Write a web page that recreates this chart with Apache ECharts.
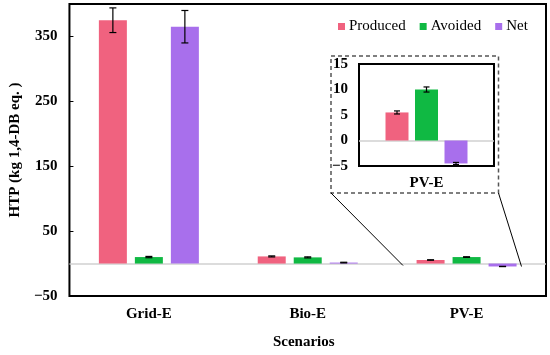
<!DOCTYPE html>
<html>
<head>
<meta charset="utf-8">
<script src="https://cdn.jsdelivr.net/npm/echarts@6/dist/echarts.min.js"></script>
<style>html,body{margin:0;padding:0;background:#fff}#c{width:550px;height:355px}</style>
</head>
<body>
<div id="c"></div>
<script>
const categories = ['Grid-E', 'Bio-E', 'PV-E'];
const seriesNames = ['Produced', 'Avoided', 'Net'];
const produced = [375, 11, 5.5];
const producedErr = [19, 0.8, 0.3];
const avoided = [10, 9.5, 10];
const avoidedErr = [1, 0.8, 0.5];
const net = [365, 1.5, -4.5];
const netErr = [25, 0.5, 0.2];
const insetCategory = ['PV-E'];
const insetIndex = 2;

const colors = ['#F0627F', '#10B943', '#A86FEC'];
const FONT = '"Liberation Serif", "Times New Roman", serif';
const values = [produced, avoided, net];
const errors = [producedErr, avoidedErr, netErr];

const MAIN_BW = 28, MAIN_GAP = 8;
const INS_BW = 23, INS_GAP = 6.5;

function minusFmt(v) { return String(v).replace('-', '\u2212'); }

function errSeries(k, vals, errs, xIdx, yIdx, bw, gap, cap) {
  return {
    type: 'custom', name: seriesNames[k] + ' err', xAxisIndex: xIdx, yAxisIndex: yIdx,
    silent: true, z: 12,
    data: vals.map((v, i) => [i, v, errs[i]]),
    renderItem: function (params, api) {
      const i = api.value(0), v = api.value(1), e = api.value(2);
      const c = api.coord([i, v]);
      const x = c[0] + (k - 1) * (bw + gap);
      const t = api.coord([i, v + e])[1];
      const b = api.coord([i, v - e])[1];
      const st = { stroke: '#000', lineWidth: 1.2 };
      return { type: 'group', children: [
        { type: 'line', shape: { x1: x, y1: t, x2: x, y2: b }, style: st },
        { type: 'line', shape: { x1: x - cap, y1: t, x2: x + cap, y2: t }, style: st },
        { type: 'line', shape: { x1: x - cap, y1: b, x2: x + cap, y2: b }, style: st }
      ]};
    }
  };
}

const zeroLine = {
  silent: true, symbol: 'none', label: { show: false },
  lineStyle: { color: '#d0d0d0', type: 'solid', width: 1.5 },
  data: [{ yAxis: 0 }]
};

const series = [];
seriesNames.forEach((n, k) => {
  const s = {
    type: 'bar', name: n, xAxisIndex: 0, yAxisIndex: 0, data: values[k], z: 10,
    barWidth: MAIN_BW, barGap: (MAIN_GAP / MAIN_BW * 100) + '%',
    itemStyle: { color: colors[k] }
  };
  if (k === 0) s.markLine = zeroLine;
  series.push(s);
});
seriesNames.forEach((n, k) => {
  const s = {
    type: 'bar', name: n, xAxisIndex: 1, yAxisIndex: 1, data: [values[k][insetIndex]], z: 10,
    barWidth: INS_BW, barGap: (INS_GAP / INS_BW * 100) + '%',
    itemStyle: { color: colors[k] }
  };
  if (k === 0) s.markLine = zeroLine;
  series.push(s);
});
seriesNames.forEach((n, k) => {
  series.push(errSeries(k, values[k], errors[k], 0, 0, MAIN_BW, MAIN_GAP, 3.5));
  series.push(errSeries(k, [values[k][insetIndex]], [errors[k][insetIndex]], 1, 1, INS_BW, INS_GAP, 3));
});

const labelStyle = { fontFamily: FONT, fontWeight: 'bold', fontSize: 15, color: '#000' };

const option = {
  animation: false,
  backgroundColor: '#fff',
  legend: {
    data: seriesNames, left: 333, top: 14, icon: 'rect', itemWidth: 7, itemHeight: 7,
    itemGap: 14,
    textStyle: { fontFamily: FONT, fontSize: 15, color: '#000', padding: [0, 0, 0, -1] }
  },
  grid: [
    { left: 64, top: 4, width: 482, height: 294, show: true, borderColor: '#000', borderWidth: 2, backgroundColor: 'transparent' },
    { left: 359, top: 64, width: 135, height: 102, show: true, borderColor: '#000', borderWidth: 2, backgroundColor: 'transparent' }
  ],
  xAxis: [
    { type: 'category', gridIndex: 0, data: categories, position: 'bottom',
      axisLine: { show: false }, axisTick: { show: false },
      axisLabel: Object.assign({ margin: 11 }, labelStyle),
      name: 'Scenarios', nameLocation: 'middle', nameGap: 39,
      nameTextStyle: Object.assign({ padding: [0, 8, 0, 0] }, labelStyle) },
    { type: 'category', gridIndex: 1, data: insetCategory, position: 'bottom',
      axisLine: { show: false }, axisTick: { show: false },
      axisLabel: Object.assign({ margin: 10 }, labelStyle) }
  ],
  yAxis: [
    { type: 'value', gridIndex: 0, min: -50, max: 400, interval: 100,
      axisLine: { show: false }, splitLine: { show: false },
      axisTick: { show: true, inside: true, length: 4, lineStyle: { color: '#000' } },
      axisLabel: Object.assign({ margin: 12, showMaxLabel: false, formatter: minusFmt }, labelStyle),
      name: 'HTP (kg 1,4-DB eq. )', nameLocation: 'middle', nameGap: 45, nameRotate: 90,
      nameTextStyle: labelStyle },
    { type: 'value', gridIndex: 1, min: -5, max: 15, interval: 5,
      axisLine: { show: false }, splitLine: { show: false }, axisTick: { show: false },
      axisLabel: Object.assign({ margin: 11, formatter: minusFmt }, labelStyle) }
  ],
  series: series,
  graphic: [
    { type: 'rect', z: 100, shape: { x: 331, y: 56, width: 167.5, height: 137 },
      style: { fill: 'none', stroke: '#555', lineWidth: 1.5, lineDash: [4, 3] } },
    { type: 'line', z: 100, shape: { x1: 331, y1: 193, x2: 403, y2: 265.5 },
      style: { stroke: '#000', lineWidth: 1 } },
    { type: 'line', z: 100, shape: { x1: 498.5, y1: 193, x2: 521.5, y2: 266.5 },
      style: { stroke: '#000', lineWidth: 1 } }
  ]
};

const chart = echarts.init(document.getElementById('c'));
chart.setOption(option);
</script>
</body>
</html>
